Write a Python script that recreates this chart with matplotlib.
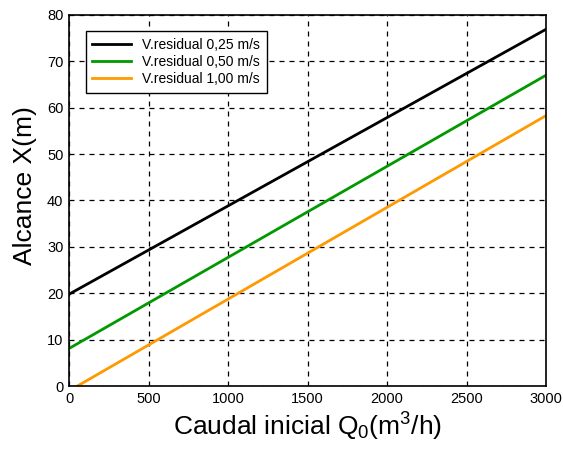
import matplotlib
matplotlib.use("Agg")
import matplotlib.pyplot as plt

plt.rcParams['font.family'] = ['Liberation Sans', 'DejaVu Sans']
plt.rcParams['mathtext.fontset'] = 'custom'
plt.rcParams['mathtext.rm'] = 'Liberation Sans'
plt.rcParams['mathtext.it'] = 'Liberation Sans:italic'

# caudal inicial (m3/h) and alcance (m)
q_black = [0, 3000]
x_black = [19.8, 76.9]
q_green = [0, 3000]
x_green = [8.1, 67.0]
q_orange = [52, 3000]
x_orange = [0.0, 58.3]

labels = ['V.residual 0,25 m/s', 'V.residual 0,50 m/s', 'V.residual 1,00 m/s']
colors = ['#000000', '#009900', '#ff9900']

fig = plt.figure(figsize=(5.63, 4.5), dpi=100)
ax = fig.add_axes([0.1226, 0.142, 0.8474, 0.825])

ax.plot(q_black, x_black, color=colors[0], lw=2, label=labels[0])
ax.plot(q_green, x_green, color=colors[1], lw=2, label=labels[1])
ax.plot(q_orange, x_orange, color=colors[2], lw=2, label=labels[2])

ax.set_xlim(0, 3000)
ax.set_ylim(0, 80)
ax.set_xticks(range(0, 3001, 500))
ax.set_yticks(range(0, 81, 10))
ax.grid(True, color='black', linestyle=(0, (4, 4)), linewidth=0.9)
ax.tick_params(length=0, labelsize=10.5, pad=4)
for s in ax.spines.values():
    s.set_linewidth(1.2)

ax.set_xlabel(r'Caudal inicial Q$_\mathrm{0}$(m$^\mathrm{3}$/h)', fontsize=19, labelpad=4)
ax.set_ylabel('Alcance X(m)', fontsize=19)
ax.yaxis.set_label_coords(-0.067, 0.54)

leg = ax.legend(loc='upper left', bbox_to_anchor=(0.02, 0.975), fontsize=10,
                frameon=True, fancybox=False, borderpad=0.5, labelspacing=0.2,
                handlelength=2.8)
leg.get_frame().set_edgecolor('black')
leg.get_frame().set_linewidth(1.0)
leg.get_frame().set_alpha(1)

fig.savefig('out.png', dpi=100)
